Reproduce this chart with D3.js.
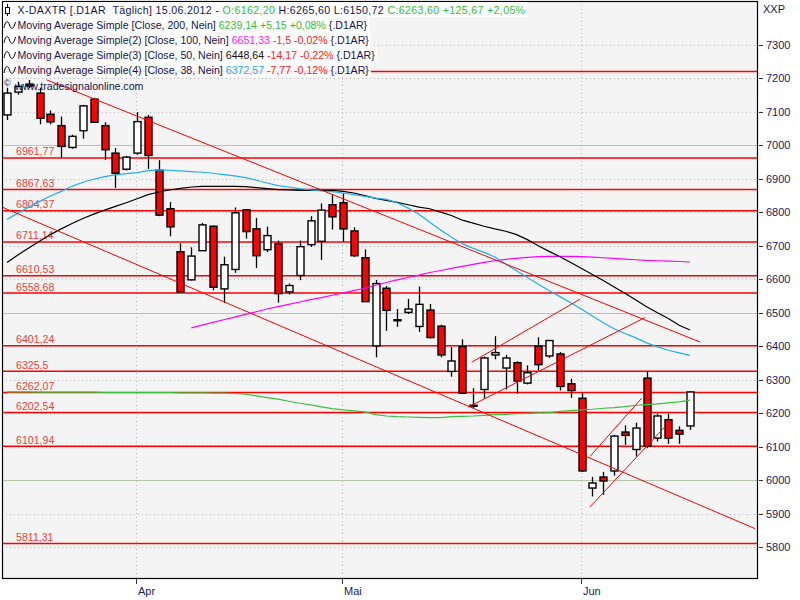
<!DOCTYPE html>
<html><head><meta charset="utf-8">
<script src="https://cdn.jsdelivr.net/npm/d3@7"></script>
<style>
body{margin:0;background:#fff;}
svg text{font-family:"Liberation Sans",Arial,sans-serif;white-space:pre;}
</style>
</head><body><svg id="c" width="800" height="600"></svg>
<script>
const dates = ["2012-03-15","2012-03-16","2012-03-19","2012-03-20","2012-03-21","2012-03-22","2012-03-23","2012-03-26","2012-03-27","2012-03-28","2012-03-29","2012-03-30",
"2012-04-02","2012-04-03","2012-04-04","2012-04-05","2012-04-10","2012-04-11","2012-04-12","2012-04-13","2012-04-16","2012-04-17","2012-04-18","2012-04-19","2012-04-20","2012-04-23","2012-04-24","2012-04-25","2012-04-26","2012-04-27","2012-04-30",
"2012-05-02","2012-05-03","2012-05-04","2012-05-07","2012-05-08","2012-05-09","2012-05-10","2012-05-11","2012-05-14","2012-05-15","2012-05-16","2012-05-17","2012-05-18","2012-05-21","2012-05-22","2012-05-23","2012-05-24","2012-05-25","2012-05-28","2012-05-29","2012-05-30","2012-05-31",
"2012-06-01","2012-06-04","2012-06-05","2012-06-06","2012-06-07","2012-06-08","2012-06-11","2012-06-12","2012-06-13","2012-06-14","2012-06-15"];
const open  = [7090,7158,7182,7155,7092,7058,6993,7043,7137,7058,6976,6928,6976,7083,6925,6810,6682,6598,6685,6758,6571,6629,6807,6750,6688,6706,6562,6611,6703,6713,6822,6828,6744,6664,6401,6573,6479,6501,6459,6508,6460,6325,6399,6223,6271,6374,6335,6351,6290,6400,6371,6377,6288,6245,5977,6010,6028,6144,6092,6305,6126,6181,6149,6162.20];
const high  = [7171,7189,7194,7171,7103,7085,7031,7120,7141,7068,6991,6968,7098,7090,6955,6830,6707,6695,6768,6760,6667,6814,6808,6783,6757,6715,6587,6715,6788,6826,6853,6856,6755,6689,6598,6580,6511,6541,6578,6526,6464,6398,6421,6275,6369,6430,6374,6355,6343,6427,6419,6383,6303,6260,6010,6025,6136,6164,6172,6325,6199,6199,6161,6265.60];
const low   = [7075,7150,7170,7062,7062,6963,6989,7019,7067,6956,6872,6924,6971,6929,6788,6728,6562,6596,6685,6567,6530,6619,6721,6633,6681,6530,6554,6597,6696,6657,6748,6712,6666,6533,6367,6446,6458,6496,6443,6423,6367,6309,6260,6215,6243,6361,6271,6258,6286,6328,6365,6268,6246,6025,5952,5957,6014,6106,6071,6096,6116,6109,6109,6150.72];
const close = [7155,7175,7176,7080,7069,6996,7026,7117,7068,6986,6916,6964,7070,6969,6791,6756,6562,6669,6762,6576,6643,6798,6742,6670,6730,6557,6581,6697,6774,6806,6786,6750,6670,6533,6587,6507,6478,6511,6525,6426,6374,6356,6260,6224,6365,6381,6365,6296,6321,6345,6417,6280,6268,6028,5992,5998,6132,6134,6156,6102,6192,6126,6137.93,6263.60];

const ma200 = [6264,6264,6264,6263,6263,6263,6263,6263,6263,6262,6262,6262,6262,6262,6262,6262,6261,6261,6261,6260,6260,6259,6257,
  6252,6247,6242,6236,6230,6225,6219,6214,6210,6207,6204,6196,6192,6190,6189,6188,6187,6187,6190,6191,6192,6194,6196,6197,6199,6200,6201,6202,6206,6208,6210,6212,6215,6217,6220,6224,6226,6228,6231,6233.99,6239.14];
const ma100 = [null,null,null,null,null,null,null,null,null,null,null,null,null,null,null,null,null,
  6455,6463,6471,6479,6487,6495,6503,6511,6518,6525,6532,6539,6545,6552,6559,6566,6573,6582,6590,6598,6605,6612,6620,6626,6632,6638,6644,6650,6655,6659,6662,6665,6667,6668,6668,6668,6667,6666,6664,6662,6660,6658,6656,6655,6654,6652.83,6651.33];
const ma50 = [6650,6672,6693,6713,6733,6750,6766,6781,6794,6806,6817,6828,6840,6852,6860,6866,6871,6875,6877,6877,6877,6877,6876,6873,6870,6867,6866,6865,6865,6865,6865,6862,6857,6849,6841,6835,6829,6822,6815,6810,6800,6790,6776,6767,6758,6750,6743,6733,6718,6700,6683,6667,6650,6632,6614,6596,6577,6558,6538,6518,6500,6483,6462.81,6448.64];
const ma38 = [6778,6797,6815,6832,6848,6862,6877,6889,6898,6906,6911,6915,6918,6924,6926,6925,6923,6921,6919,6916,6912,6908,6903,6895,6887,6879,6875,6870,6866,6863,6861,6857,6852,6847,6842,6838,6828,6812,6794,6770,6747,6725,6706,6692,6680,6666,6645,6625,6605,6585,6566,6548,6530,6510,6490,6470,6452,6438,6425,6410,6398,6388,6380.34,6372.57];

const levels = [7219.73,6961.77,6867.63,6804.37,6711.14,6610.53,6558.68,6401.24,6325.5,6262.07,6202.54,6101.94,5811.31];
const levelLabels = ["7219,73","6961,77","6867,63","6804,37","6711,14","6610,53","6558,68","6401,24","6325,5","6262,07","6202,54","6101,94","5811,31"];
const yTicks = [5800,5900,6000,6100,6200,6300,6400,6500,6600,6700,6800,6900,7000,7100,7200,7300];
const monthTicks = ["2012-04-02","2012-05-02","2012-06-01"];
const monthLabels = ["Apr","Mai","Jun"];
// trend lines drawn on the chart: [startIndex, startPrice, endIndex, endPrice]
const trendLines = [
  [3.66,7194.5,63.93,6412.6],
  [-0.65,6817.8,69.0,5856],
  [42.87,6352.3,52.86,6540.5],
  [42.53,6218.5,58.85,6485.5],
  [53.78,6071.6,58.55,6245.3],
  [53.78,5921,60.7,6160]
];
const legendRows = [
  [["X-DAXTR [.D1AR  Täglich] 15.06.2012 - ","#15154f"],["O:6162,20","#33c033"],[" H:6265,60 L:6150,72 ","#15154f"],["C:6263,60 +125,67 +2,05%","#33c033"]],
  [["Moving Average Simple [Close, 200, Nein] ","#15154f"],["6239,14 +5,15 +0,08%","#33c033"],[" {.D1AR}","#15154f"]],
  [["Moving Average Simple(2) [Close, 100, Nein] ","#15154f"],["6651,33","#ff22ff"],[" -1,5 -0,02%","#ff2020"],[" {.D1AR}","#15154f"]],
  [["Moving Average Simple(3) [Close, 50, Nein] ","#15154f"],["6448,64","#111111"],[" -14,17 -0,22%","#ff2020"],[" {.D1AR}","#15154f"]],
  [["Moving Average Simple(4) [Close, 38, Nein] ","#15154f"],["6372,57","#22aaee"],[" -7,77 -0,12%","#ff2020"],[" {.D1AR}","#15154f"]]
];

const svg = d3.select("#c");
const L = 2, R = 757, T = 1, B = 578;
const x = d3.scaleLinear().domain([0, dates.length - 1]).range([7, 690]);
const y = d3.scaleLinear().domain([5800, 7300]).range([547.4, 44.5]);

svg.append("defs").append("clipPath").attr("id","clip")
  .append("rect").attr("x",L).attr("y",T).attr("width",R-L).attr("height",B-T);

svg.append("rect").attr("x",L).attr("y",T).attr("width",R-L).attr("height",B-T).attr("fill","#f4f4f4");

const plot = svg.append("g").attr("clip-path","url(#clip)");

plot.selectAll("line.hg").data(yTicks).join("line")
  .attr("x1",L).attr("x2",R)
  .attr("y1",d=>Math.round(y(d))+0.5).attr("y2",d=>Math.round(y(d))+0.5)
  .attr("stroke",d=>d%500===0?"#b4c6ac":"#b8b8b8")
  .attr("stroke-dasharray",d=>d%500===0?null:"1,3");

const tickIdx = monthTicks.map(m=>dates.indexOf(m));
plot.selectAll("line.vg").data(tickIdx).join("line")
  .attr("x1",d=>Math.round(x(d))-0.5).attr("x2",d=>Math.round(x(d))-0.5)
  .attr("y1",T).attr("y2",B)
  .attr("stroke","#b8b8b8").attr("stroke-dasharray","1,3");

plot.selectAll("line.lv").data(levels).join("line")
  .attr("x1",L).attr("x2",R)
  .attr("y1",d=>y(d)).attr("y2",d=>y(d))
  .attr("stroke","#ff0000").attr("stroke-width",1.5);

plot.selectAll("text.lv").data(levels).join("text")
  .attr("x",16).attr("y",d=>y(d)-2.5)
  .attr("fill","#f04040").attr("font-size","10.6px")
  .text((d,i)=>levelLabels[i]);

const data = dates.map((d,i)=>({i,o:open[i],h:high[i],l:low[i],c:close[i]}));
const cg = plot.append("g");
cg.selectAll("line").data(data).join("line")
  .attr("x1",d=>Math.round(x(d.i))+0.5).attr("x2",d=>Math.round(x(d.i))+0.5)
  .attr("y1",d=>y(d.h)).attr("y2",d=>y(d.l))
  .attr("stroke","#000").attr("stroke-width",1.3);
cg.selectAll("rect").data(data).join("rect")
  .attr("x",d=>Math.round(x(d.i))-3)
  .attr("width",7)
  .attr("y",d=>y(Math.max(d.o,d.c)))
  .attr("height",d=>Math.max(1,Math.abs(y(d.o)-y(d.c))))
  .attr("fill",d=>d.c>=d.o?"#ffffff":"#ff0000")
  .attr("stroke","#000").attr("stroke-width",1.4);

const lineGen = d3.line().defined(d=>d!=null).x((d,i)=>x(i)).y(d=>y(d));
[[ma200,"#3cc03c"],[ma100,"#ff00ff"],[ma50,"#000000"],[ma38,"#1eb0f0"]].forEach(([arr,col])=>{
  plot.append("path").datum(arr).attr("d",lineGen).attr("fill","none")
    .attr("stroke",col).attr("stroke-width",1.2);
});

plot.selectAll("line.tl").data(trendLines).join("line")
  .attr("x1",d=>x(d[0])).attr("y1",d=>y(d[1]))
  .attr("x2",d=>x(d[2])).attr("y2",d=>y(d[3]))
  .attr("stroke","#ff0000").attr("stroke-width",1);

svg.append("rect").attr("x",L+0.5).attr("y",T+0.5).attr("width",R-L).attr("height",B-T)
  .attr("fill","none").attr("stroke","#000").attr("stroke-width",1.2);

const ra = svg.append("g");
ra.selectAll("line").data(yTicks).join("line")
  .attr("x1",R+2).attr("x2",R+6)
  .attr("y1",d=>Math.round(y(d))+0.5).attr("y2",d=>Math.round(y(d))+0.5)
  .attr("stroke","#333");
ra.selectAll("text").data(yTicks).join("text")
  .attr("x",R+9).attr("y",d=>y(d)+4)
  .attr("fill","#1a1a55").attr("font-size","11px")
  .text(d=>d);
svg.append("text").attr("x",R+6).attr("y",13).attr("fill","#1a1a55").attr("font-size","11px").text("XXP");

const ba = svg.append("g");
ba.selectAll("line").data(tickIdx).join("line")
  .attr("x1",d=>Math.round(x(d))-0.5).attr("x2",d=>Math.round(x(d))-0.5)
  .attr("y1",B).attr("y2",B+6).attr("stroke","#333");
ba.selectAll("text").data(tickIdx).join("text")
  .attr("x",d=>Math.round(x(d))+1).attr("y",B+17)
  .attr("fill","#1a1a55").attr("font-size","11px")
  .text((d,i)=>monthLabels[i]);

const lg = svg.append("g");
const rowH = 15, row0 = 2;
legendRows.forEach((row,r)=>{
  const yy = row0 + r*rowH;
  const bg = lg.append("rect").attr("x",L+1).attr("y",yy).attr("height",rowH).attr("fill","#ffffff").attr("fill-opacity",0.88);
  const t = lg.append("text").attr("x",17.5).attr("y",yy+11.5).attr("font-size","10.6px");
  if(r===0) t.attr("letter-spacing","0.35px");
  row.forEach(([s,c])=>t.append("tspan").attr("fill",c).text(s));
  const w = t.node().getComputedTextLength();
  bg.attr("width",17.5+w+2-L-1);
  if(r===0){
    lg.append("line").attr("x1",7.5).attr("x2",7.5).attr("y1",yy+2).attr("y2",yy+14).attr("stroke","#000");
    lg.append("rect").attr("x",5.5).attr("y",yy+5.5).attr("width",4).attr("height",6).attr("fill","#fff").attr("stroke","#000");
  } else {
    const c = yy+8;
    lg.append("path").attr("d",`M4,${c+3} C5.5,${c-5} 8,${c-5} 9.5,${c} S13.5,${c+5} 15.5,${c-3}`)
      .attr("fill","none").attr("stroke","#000").attr("stroke-width",1);
  }
});
svg.append("text").attr("x",4).attr("y",86).attr("font-size","9px").attr("fill","#15154f").text("©");
svg.append("text").attr("x",15).attr("y",90).attr("font-size","10.6px").attr("fill","#15154f").text("www.tradesignalonline.com");
</script>
</body></html>
